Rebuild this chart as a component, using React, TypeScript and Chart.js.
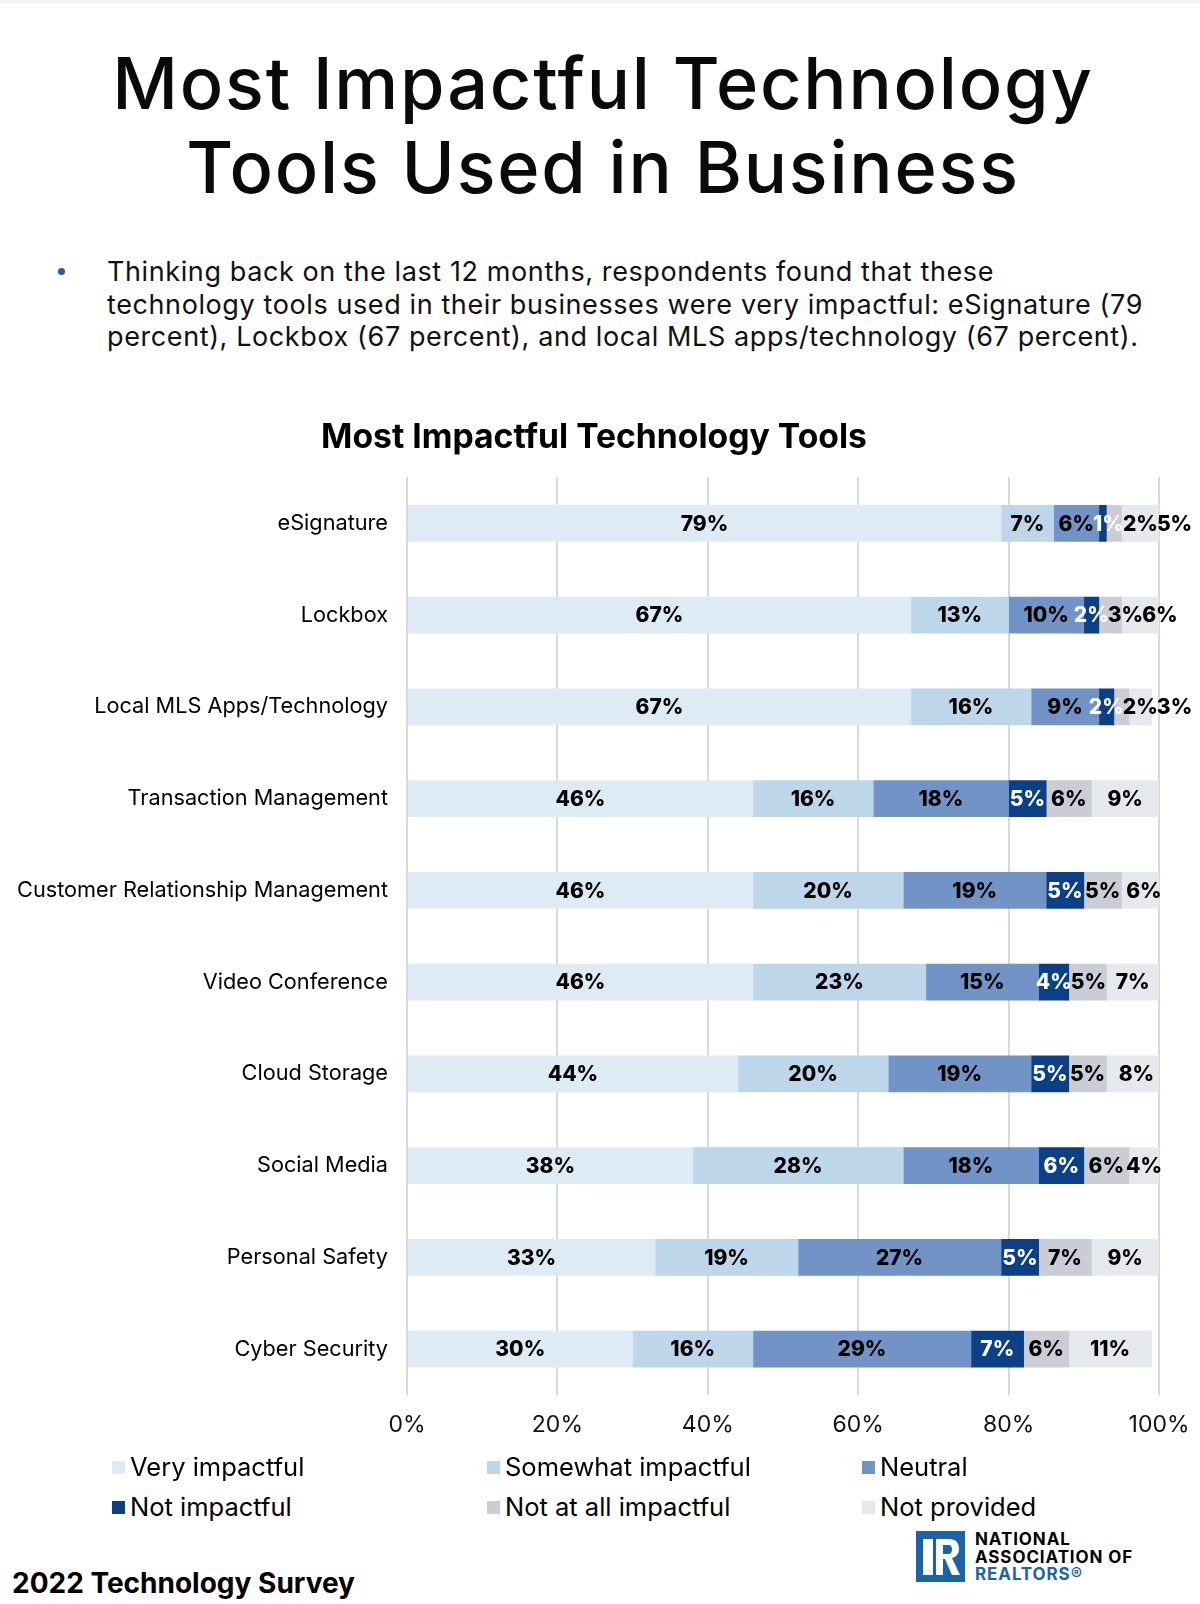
import React, { useEffect, useRef } from "react";
import { Chart, registerables } from "chart.js";

Chart.register(...registerables);

const FONT = "Inter, 'Noto Sans', sans-serif";

const categories = [
  "eSignature",
  "Lockbox",
  "Local MLS Apps/Technology",
  "Transaction Management",
  "Customer Relationship Management",
  "Video Conference",
  "Cloud Storage",
  "Social Media",
  "Personal Safety",
  "Cyber Security",
];
const veryImpactful = [79, 67, 67, 46, 46, 46, 44, 38, 33, 30];
const somewhatImpactful = [7, 13, 16, 16, 20, 23, 20, 28, 19, 16];
const neutral = [6, 10, 9, 18, 19, 15, 19, 18, 27, 29];
const notImpactful = [1, 2, 2, 5, 5, 4, 5, 6, 5, 7];
const notAtAllImpactful = [2, 3, 2, 6, 5, 5, 5, 6, 7, 6];
const notProvided = [5, 6, 3, 9, 6, 7, 8, 4, 9, 11];

const seriesNames = [
  "Very impactful",
  "Somewhat impactful",
  "Neutral",
  "Not impactful",
  "Not at all impactful",
  "Not provided",
];
const seriesValues = [veryImpactful, somewhatImpactful, neutral, notImpactful, notAtAllImpactful, notProvided];
const seriesColors = ["#deebf5", "#bdd6ea", "#7193c5", "#0b3f86", "#cacdd6", "#e5e8ec"];
const labelColors = ["#000000", "#000000", "#000000", "#ffffff", "#000000", "#000000"];
const xTickValues = [0, 20, 40, 60, 80, 100];

const chartTitle = "Most Impactful Technology Tools";
const pageTitle = ["Most Impactful Technology", "Tools Used in Business"];
const bulletLines = [
  "Thinking back on the last 12 months, respondents found that these",
  "technology tools used in their businesses were very impactful: eSignature (79",
  "percent), Lockbox (67 percent), and local MLS apps/technology (67 percent).",
];

const segLabelPlugin = {
  id: "segLabels",
  afterDatasetsDraw(chart: any) {
    const ctx = chart.ctx;
    ctx.save();
    ctx.font = `800 21px ${FONT}`;
    ctx.textBaseline = "middle";
    ctx.textAlign = "center";
    const n = chart.data.labels.length;
    for (let i = 0; i < n; i++) {
      let prevRight = -Infinity;
      chart.data.datasets.forEach((ds: any, d: number) => {
        const el = chart.getDatasetMeta(d).data[i];
        if (!el) return;
        const text = ds.data[i] + "%";
        const w = ctx.measureText(text).width;
        let cx = (el.x + el.base) / 2;
        if (cx - w / 2 < prevRight - 1) cx = prevRight - 1 + w / 2;
        ctx.fillStyle = labelColors[d];
        ctx.fillText(text, cx, el.y + 1);
        prevRight = cx + w / 2;
      });
    }
    ctx.restore();
  },
};

function StackedChart() {
  const ref = useRef<HTMLCanvasElement | null>(null);
  useEffect(() => {
    if (!ref.current) return;
    const chart = new Chart(ref.current, {
      type: "bar",
      data: {
        labels: categories,
        datasets: seriesNames.map((name, i) => ({
          label: name,
          data: seriesValues[i],
          backgroundColor: seriesColors[i],
          borderWidth: 0,
          barThickness: 36,
        })),
      },
      options: {
        indexAxis: "y",
        animation: false,
        responsive: false,
        maintainAspectRatio: false,
        layout: { padding: { left: 0, right: 12, top: 0, bottom: 0 } },
        plugins: {
          legend: { display: false },
          tooltip: { enabled: false },
          title: {
            display: true,
            text: chartTitle,
            color: "#000",
            font: { size: 33.7, weight: "bold", family: FONT },
            padding: { top: 3, bottom: 19 },
          },
        },
        scales: {
          x: {
            stacked: true,
            min: 0,
            max: 100,
            afterBuildTicks: (s: any) => {
              s.ticks = xTickValues.map((v) => ({ value: v }));
            },
            ticks: {
              callback: (v: any) => v + "%",
              color: "#111",
              font: { size: 23, family: FONT },
              padding: 16,
            },
            grid: { color: "#d9d9d9", lineWidth: 2, drawTicks: false },
            border: { display: false },
            afterFit: (s: any) => {
              s.height = 60;
              s.paddingLeft = 0;
              s.paddingRight = 41;
            },
          },
          y: {
            stacked: true,
            ticks: { color: "#000", font: { size: 21.7, family: FONT }, padding: 11 },
            grid: { display: false },
            border: { display: false },
            afterFit: (s: any) => {
              s.width = 407;
            },
          },
        },
      } as any,
      plugins: [segLabelPlugin],
    });
    return () => chart.destroy();
  }, []);
  return <canvas ref={ref} width={1200} height={1040} style={{ display: "block" }} />;
}

export default function App() {
  return (
    <div
      style={{
        position: "absolute",
        left: 0,
        top: 0,
        width: 1200,
        height: 1604,
        background: "#fff",
        overflow: "hidden",
        fontFamily: FONT,
        color: "#000",
      }}
    >
      <div style={{ position: "absolute", left: 0, top: 0, width: 1200, height: 3, background: "#f2f3f5" }} />
      <div
        style={{
          position: "absolute",
          left: 3,
          top: 41,
          width: 1200,
          textAlign: "center",
          fontSize: 72,
          fontWeight: 500,
          lineHeight: "84px",
          letterSpacing: "1.8px",
          color: "#0a0a0a",
        }}
      >
        {pageTitle[0]}
        <br />
        {pageTitle[1]}
      </div>
      <div
        style={{
          position: "absolute",
          left: 58,
          top: 268,
          width: 7,
          height: 7,
          borderRadius: 4,
          background: "#2a5ba8",
        }}
      />
      <div
        style={{
          position: "absolute",
          left: 107,
          top: 256,
          width: 1090,
          fontSize: 27,
          lineHeight: "32.5px",
          letterSpacing: "0.6px",
          whiteSpace: "nowrap",
          color: "#111",
        }}
      >
        {bulletLines.map((l, i) => (
          <div key={i}>{l}</div>
        ))}
      </div>
      <div style={{ position: "absolute", left: 0, top: 415 }}>
        <StackedChart />
      </div>
      {seriesNames.map((name, i) => {
        const col = i % 3;
        const row = Math.floor(i / 3);
        const left = [112, 487, 862][col];
        const cy = [1467, 1507][row];
        return (
          <div
            key={name}
            style={{ position: "absolute", left, top: cy - 16, height: 32, display: "flex", alignItems: "center" }}
          >
            <div style={{ width: 13, height: 13, background: seriesColors[i], marginRight: 5 }} />
            <span style={{ fontSize: 25.5, lineHeight: "32px" }}>{name}</span>
          </div>
        );
      })}
      <div
        style={{
          position: "absolute",
          left: 12,
          top: 1566,
          fontSize: 28,
          fontWeight: 700,
          lineHeight: "34px",
        }}
      >
        2022 Technology Survey
      </div>
      <svg
        style={{ position: "absolute", left: 916, top: 1531 }}
        width={49}
        height={51}
        viewBox="0 0 49 51"
      >
        <rect x={0} y={0} width={49} height={51} fill="#1b62ad" />
        <rect x={7} y={8} width={10} height={36} fill="#fff" />
        <path
          d="M20 8 H33 C40 8 43 12 43 18 C43 23 40 26 36 27 L44 44 H36 L29 28 H27 V44 H20 Z M27 14 V23 H32 C35 23 36 21 36 18.5 C36 16 35 14 32 14 Z"
          fill="#fff"
          fillRule="evenodd"
        />
      </svg>
      <div
        style={{
          position: "absolute",
          left: 975,
          top: 1531,
          fontSize: 17,
          fontWeight: 700,
          lineHeight: "17.5px",
          letterSpacing: "0.9px",
        }}
      >
        <div>NATIONAL</div>
        <div>ASSOCIATION OF</div>
        <div style={{ color: "#1b62ad" }}>REALTORS®</div>
      </div>
    </div>
  );
}
